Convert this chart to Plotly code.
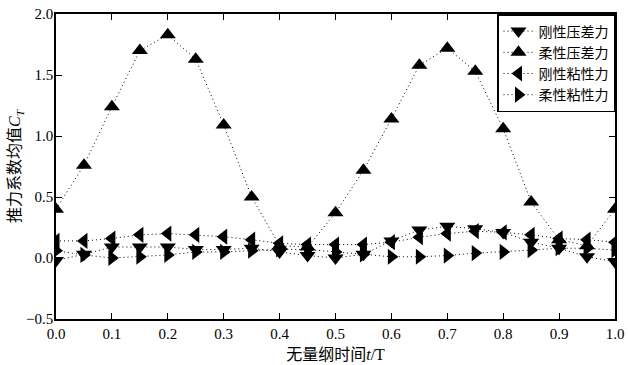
import plotly.graph_objects as go

# Non-dimensional time t/T
t = [0.0, 0.05, 0.1, 0.15, 0.2, 0.25, 0.3, 0.35, 0.4, 0.45, 0.5,
     0.55, 0.6, 0.65, 0.7, 0.75, 0.8, 0.85, 0.9, 0.95, 1.0]

# Mean thrust coefficient components
rigid_pressure = [-0.02, 0.03, 0.09, 0.09, 0.09, 0.07, 0.07, 0.08, 0.05, 0.02, 0.00,
                  0.03, 0.14, 0.23, 0.26, 0.24, 0.21, 0.13, 0.08, 0.01, -0.03]
flex_pressure = [0.40, 0.76, 1.24, 1.70, 1.83, 1.63, 1.09, 0.50, 0.10, 0.09, 0.37,
                 0.72, 1.14, 1.58, 1.72, 1.53, 1.06, 0.46, 0.15, 0.10, 0.40]
rigid_viscous = [0.14, 0.14, 0.16, 0.19, 0.20, 0.19, 0.175, 0.15, 0.12, 0.11, 0.11,
                 0.11, 0.13, 0.17, 0.20, 0.22, 0.21, 0.19, 0.16, 0.15, 0.13]
flex_viscous = [0.06, 0.025, 0.0, 0.01, 0.025, 0.05, 0.05, 0.06, 0.07, 0.07, 0.05,
                0.03, 0.01, 0.01, 0.02, 0.04, 0.05, 0.065, 0.08, 0.08, 0.065]

names = ["刚性压差力", "柔性压差力", "刚性粘性力", "柔性粘性力"]
symbols = ["triangle-down", "triangle-up", "triangle-left", "triangle-right"]
series = [rigid_pressure, flex_pressure, rigid_viscous, flex_viscous]

SERIF = "'Liberation Serif', 'DejaVu Serif', 'Noto Sans CJK SC', serif"

fig = go.Figure()
for name, sym, ys in zip(names, symbols, series):
    fig.add_trace(go.Scatter(
        x=t, y=ys, name=name, mode="lines+markers",
        line=dict(color="black", width=1, dash="1px,3px"),
        marker=dict(symbol=sym, size=14, color="black"),
    ))

axis_common = dict(
    showline=True, linecolor="black", linewidth=1.5, mirror="ticks",
    ticks="inside", ticklen=6, tickcolor="black", tickwidth=1,
    showgrid=False, zeroline=False, automargin=False,
    tickfont=dict(family=SERIF, size=15, color="black"),
)

fig.update_layout(
    width=628, height=365,
    margin=dict(l=56, r=13, t=14, b=46),
    paper_bgcolor="white", plot_bgcolor="white",
    font=dict(family=SERIF, color="black", size=15),
    xaxis=dict(range=[0, 1], dtick=0.1, tickformat=".1f",
               title=dict(text="无量纲时间<i>t</i>/T", standoff=8,
                          font=dict(family=SERIF, size=16)),
               **axis_common),
    yaxis=dict(range=[-0.5, 2.0], dtick=0.5, tickformat=".1f",
               ticklabelstandoff=-2,
               title=dict(text="推力系数均值<i>C</i><sub><i>T</i></sub>", standoff=1,
                          font=dict(family=SERIF, size=16)),
               **axis_common),
    legend=dict(x=1, y=1, xanchor="right", yanchor="top",
                bordercolor="black", borderwidth=1.5, bgcolor="white",
                font=dict(family=SERIF, size=14), tracegroupgap=0, itemwidth=30),
    showlegend=True,
)

fig.write_html("out.html")
